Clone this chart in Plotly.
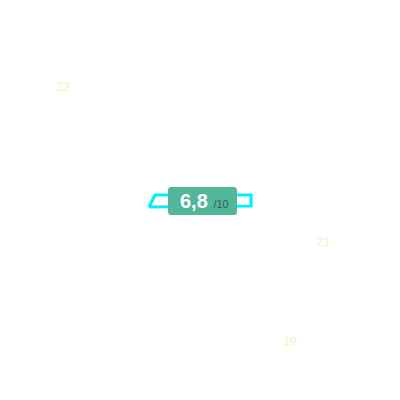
import plotly.graph_objects as go

# faint value labels scattered on the canvas
label_text = ["23", "21", "19"]
label_x = [15.75, 80.75, 72.5]
label_y = [78.25, 39.5, 14.5]

# outline of the score band
band_x = [37.25, 38.75, 62.75, 62.75, 37.25]
band_y = [48.5, 51.5, 51.5, 48.75, 48.5]

score = "6,8"
score_max = "/10"


def main():
    fig = go.Figure()

    fig.add_trace(go.Scatter(
        x=band_x, y=band_y, mode="lines",
        line=dict(color="#00f0f8", width=3.2),
        hoverinfo="skip"))

    fig.add_trace(go.Scatter(
        x=label_x, y=label_y, mode="text", text=label_text,
        textfont=dict(family="Liberation Sans, Arial, sans-serif", size=12, color="#e6f7c4"),
        hoverinfo="skip"))

    # rounded teal box behind the score
    x0, x1, y0, y1, r = 42.0, 59.25, 46.5, 53.5, 0.9
    fig.add_shape(
        type="path",
        path=(f"M {x0 + r},{y0} L {x1 - r},{y0} Q {x1},{y0} {x1},{y0 + r} "
              f"L {x1},{y1 - r} Q {x1},{y1} {x1 - r},{y1} L {x0 + r},{y1} "
              f"Q {x0},{y1} {x0},{y1 - r} L {x0},{y0 + r} Q {x0},{y0} {x0 + r},{y0} Z"),
        fillcolor="#52b69a", line=dict(width=0), layer="above")

    fig.add_annotation(
        x=51.0, y=49.9,
        text="<b>{}</b> <span style='font-size:11px;color:#2f5f52'>{}</span>".format(score, score_max),
        showarrow=False,
        font=dict(family="Liberation Sans, Arial, sans-serif", size=20, color="white"))

    # the page puts the plot 8px right / 7px down, so shift the ranges to match
    fig.update_layout(
        width=400, height=400,
        margin=dict(l=0, r=0, t=0, b=0),
        paper_bgcolor="white", plot_bgcolor="white",
        showlegend=False)
    fig.update_xaxes(range=[2, 102], visible=False, fixedrange=True)
    fig.update_yaxes(range=[-1.75, 98.25], visible=False, fixedrange=True)

    fig.write_html("out.html")


if __name__ == "__main__":
    main()
